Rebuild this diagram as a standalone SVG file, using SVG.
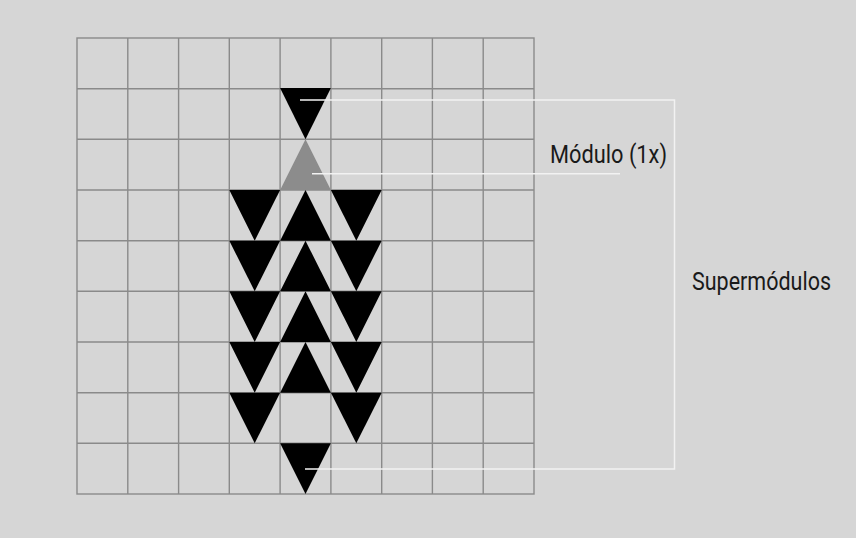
<svg xmlns="http://www.w3.org/2000/svg" width="856" height="538" viewBox="0 0 856 538">
<style>
.g{stroke:#8a8a8a;stroke-width:1.4;fill:none}
.d{fill:#000}
.m{fill:#8c8c8c}
.w{stroke:#f2f2f2;stroke-width:1.5;fill:none}
.t{font-family:Roboto,"Liberation Sans",sans-serif;font-size:26.5px;fill:#1a1a1a}
</style>
<rect width="856" height="538" fill="#d6d6d6"/>
<g id="grid" class="g">
<rect x="77" y="38" width="457" height="456"/>
<path d="M127.8 38V494M178.6 38V494M229.3 38V494M280.1 38V494M330.9 38V494M381.7 38V494M432.4 38V494M483.2 38V494"/>
<path d="M77 88.7H534M77 139.3H534M77 190H534M77 240.7H534M77 291.3H534M77 342H534M77 392.7H534M77 443.3H534"/>
</g>
<g id="triangles">
<polygon class="d" points="280.1,88 330.9,88 305.5,139.3"/>
<polygon class="m" points="305.5,139.3 330.9,190 280.1,190"/>
<g id="left">
<polygon class="d" points="229.3,190 280.1,190 254.7,240.7"/>
<polygon class="d" points="229.3,240.7 280.1,240.7 254.7,291.3"/>
<polygon class="d" points="229.3,291.3 280.1,291.3 254.7,342"/>
<polygon class="d" points="229.3,342 280.1,342 254.7,392.7"/>
<polygon class="d" points="229.3,392.7 280.1,392.7 254.7,443.3"/>
</g>
<g id="right">
<polygon class="d" points="330.9,190 381.7,190 356.3,240.7"/>
<polygon class="d" points="330.9,240.7 381.7,240.7 356.3,291.3"/>
<polygon class="d" points="330.9,291.3 381.7,291.3 356.3,342"/>
<polygon class="d" points="330.9,342 381.7,342 356.3,392.7"/>
<polygon class="d" points="330.9,392.7 381.7,392.7 356.3,443.3"/>
</g>
<g id="center">
<polygon class="d" points="305.5,190 330.9,240.7 280.1,240.7"/>
<polygon class="d" points="305.5,240.7 330.9,291.3 280.1,291.3"/>
<polygon class="d" points="305.5,291.3 330.9,342 280.1,342"/>
<polygon class="d" points="305.5,342 330.9,392.7 280.1,392.7"/>
</g>
<polygon class="d" points="280.1,443.3 330.9,443.3 305.5,494"/>
</g>
<g id="connectors" class="w">
<path d="M300 100H674.5V469H305"/>
<path d="M312 173.7H620"/>
</g>
<g id="label-modulo"><text class="t" x="550" y="163" textLength="117" lengthAdjust="spacingAndGlyphs">Módulo (1x)</text></g>
<g id="label-supermodulos"><text class="t" x="692" y="290" textLength="139" lengthAdjust="spacingAndGlyphs">Supermódulos</text></g>
</svg>
